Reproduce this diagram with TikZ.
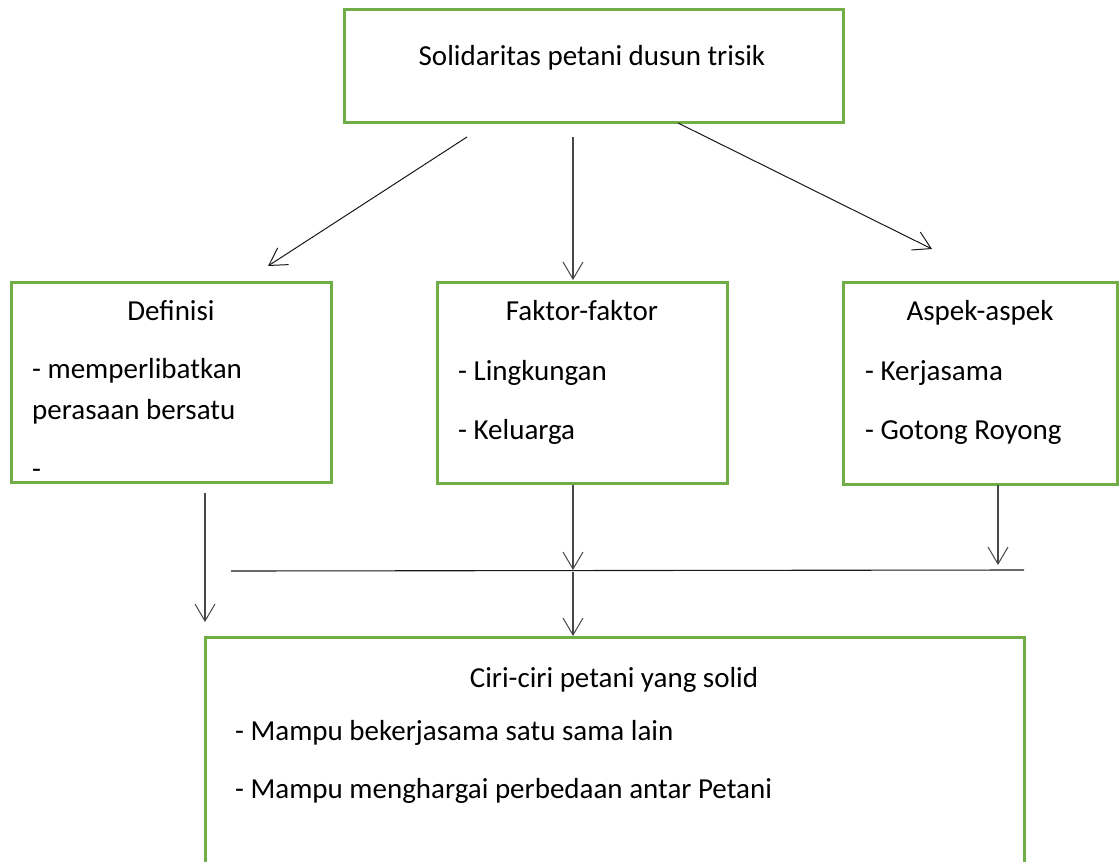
\documentclass[tikz,border=0pt]{standalone}
\usepackage{fontspec}
\setmainfont{Carlito}
\usetikzlibrary{arrows.meta}
\definecolor{boxgreen}{HTML}{70AD47}
\begin{document}
\begin{tikzpicture}[x=1pt,y=-1pt,
  box/.style={draw=boxgreen,line width=3pt,fill=white},
  conn/.style={line width=1pt,draw=black!90,-{Straight Barb[length=17pt,width=20pt,line width=1pt]}},
  vconn/.style={conn,line width=1.3pt,draw=black!72},
  plain/.style={line width=1.1pt,draw=black!90},
  txt/.style={inner sep=0pt,font=\fontsize{29}{34}\selectfont,anchor=base},
  ltxt/.style={inner sep=0pt,font=\fontsize{29}{34}\selectfont,anchor=base west}]
\useasboundingbox (0,0) rectangle (1119,862);
% boxes
\draw[box] (344,9) rectangle (843,122);
\draw[box] (11,282) rectangle (331,482);
\draw[box] (437,282) rectangle (727,483);
\draw[box] (843,282) rectangle (1117,484);
\draw[box] (205,880) -- (205,637) -- (1024,637) -- (1024,880);
% texts
\node[txt] (t0) at (592,65) {Solidaritas petani dusun trisik};
\node[txt] (d0) at (171,320) {Definisi};
\node[ltxt] (d1) at (32,378) {- memperlibatkan};
\node[ltxt] (d2) at (32,419) {perasaan bersatu};
\node[ltxt] (d3) at (32,478) {-};
\node[txt] (f0) at (582,320) {Faktor-faktor};
\node[ltxt] (f1) at (458,380) {- Lingkungan};
\node[ltxt] (f2) at (458,439) {- Keluarga};
\node[txt] (a0) at (980,320) {Aspek-aspek};
\node[ltxt] (a1) at (865,380) {- Kerjasama};
\node[ltxt] (a2) at (865,439) {- Gotong Royong};
\node[txt] (c0) at (614,687) {Ciri-ciri petani yang solid};
\node[ltxt] (c1) at (235,740) {- Mampu bekerjasama satu sama lain};
\node[ltxt] (c2) at (235,798) {- Mampu menghargai perbedaan antar Petani};
% connector coordinates
\coordinate (s1) at (467,137); \coordinate (e1) at (268,266);
\coordinate (s2) at (573,137); \coordinate (e2) at (573,280);
\coordinate (s3) at (678,123); \coordinate (e3) at (932,249);
\coordinate (s4) at (205,493); \coordinate (e4) at (205,622);
\coordinate (s5) at (573,485); \coordinate (e5) at (573,570);
\coordinate (s6) at (998,485); \coordinate (e6) at (998,565);
\coordinate (hl) at (231,571); \coordinate (hr) at (1024,570);
\coordinate (s7) at (573,572); \coordinate (e7) at (573,636);
\draw[conn] (s1) -- (e1);
\draw[vconn] (s2) -- (e2);
\draw[conn] (s3) -- (e3);
\draw[vconn] (s4) -- (e4);
\draw[vconn] (s5) -- (e5);
\draw[vconn] (s6) -- (e6);
\draw[plain] (hl) -- (hr);
\draw[vconn] (s7) -- (e7);
\end{tikzpicture}
\end{document}
